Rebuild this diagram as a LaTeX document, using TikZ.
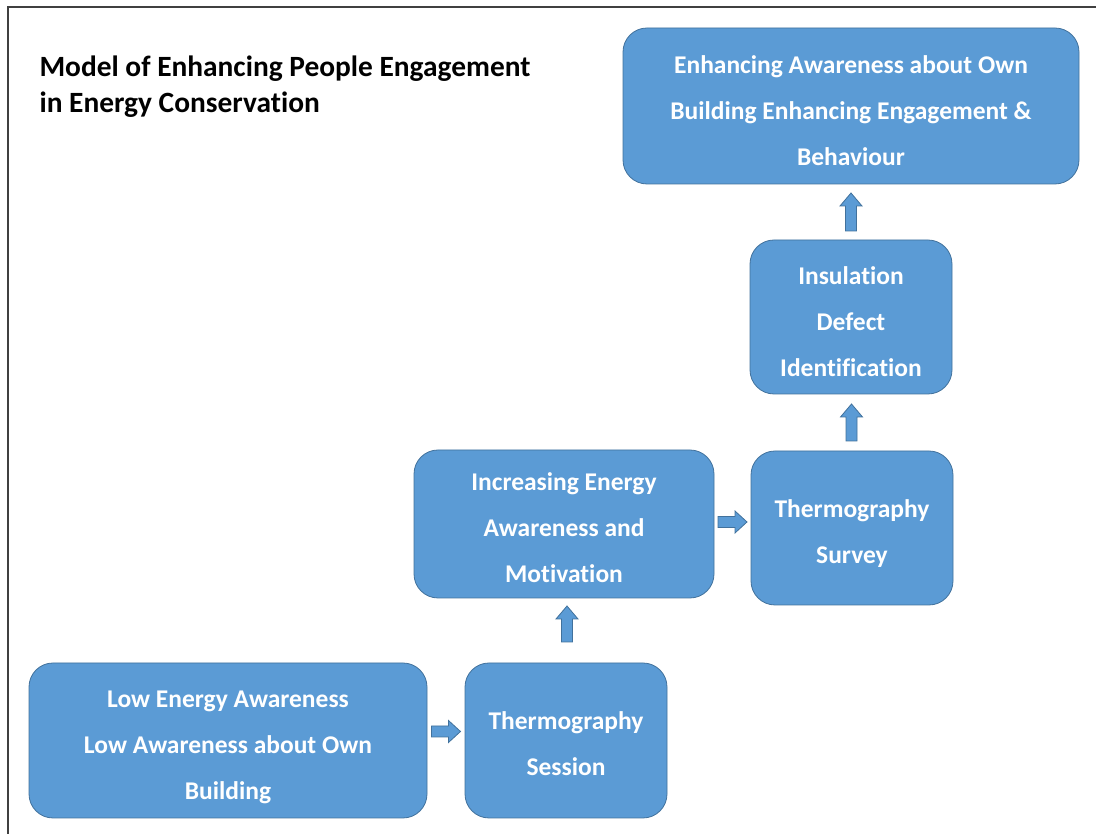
\documentclass[tikz,border=0pt]{standalone}
\usepackage{fontspec}
\setmainfont{Carlito}[Ligatures=NoCommon]
\usetikzlibrary{calc}
\definecolor{boxfill}{HTML}{5B9BD5}
\definecolor{boxline}{HTML}{41719C}
\tikzset{
  x=1pt,y=1pt,
  box/.style={draw=boxline, fill=boxfill, line width=0.8pt, rounded corners=24pt, inner sep=0pt},
  boxtext/.style={text=white, font=\fontsize{25.5}{46}\selectfont\bfseries, align=center, inner sep=0pt},
  barrow/.style={draw=boxline, fill=boxfill, line width=0.8pt},
  frameline/.style={draw=black!75, line width=1.3pt},
}
\begin{document}
\begin{tikzpicture}
\useasboundingbox (0,0) rectangle (1096,834);
\draw[frameline] (8,0) -- (8,827) -- (1096,827);
\node[anchor=west, align=left, font=\fontsize{29.4}{36}\selectfont\bfseries] (title) at (36,747) {Model of Enhancing People Engagement\\in Energy Conservation};

\node[box, minimum width=456pt, minimum height=156pt] (top) at (851,728) {};
\node[boxtext] (toptext) at ([yshift=-4.5]top.center) {Enhancing Awareness about Own\\Building Enhancing Engagement \&\\Behaviour};
\node[box, minimum width=202pt, minimum height=154pt] (ins) at (851,517) {};
\node[boxtext] (instext) at ([yshift=-4.5]ins.center) {Insulation\\Defect\\Identification};
\node[box, minimum width=300pt, minimum height=148pt] (inc) at (564,310) {};
\node[boxtext] (inctext) at ([yshift=-4]inc.center) {Increasing Energy\\Awareness and\\Motivation};
\node[box, minimum width=202pt, minimum height=154pt] (sur) at (852,306) {};
\node[boxtext] (surtext) at ([yshift=-6]sur.center) {Thermography\\Survey};
\node[box, minimum width=398pt, minimum height=155pt] (low) at (228,93.5) {};
\node[boxtext] (lowtext) at ([yshift=-6.5]low.center) {Low Energy Awareness\\Low Awareness about Own\\Building};
\node[box, minimum width=202pt, minimum height=155pt] (ses) at (566,93.5) {};
\node[boxtext] (sestext) at ([yshift=-3.5]ses.center) {Thermography\\Session};

% block arrows
\coordinate (a1) at ([yshift=9]$(low.east)!0.5!(ses.west)$);
\draw[barrow] ([shift={(-14.5,-5.5)}]a1) -- ++(17,0) -- ++(0,-5.5) -- ++(12,11) -- ++(-12,11) -- ++(0,-5.5) -- ++(-17,0) -- cycle;
\coordinate (a2) at (567,210);
\draw[barrow] ([shift={(-5.5,-18)}]a2) -- ++(0,23) -- ++(-5.5,0) -- ++(11,13) -- ++(11,-13) -- ++(-5.5,0) -- ++(0,-23) -- cycle;
\coordinate (a3) at ([yshift=4]$(inc.east)!0.5!(sur.west)$);
\draw[barrow] ([shift={(-14.5,-5.5)}]a3) -- ++(17,0) -- ++(0,-5.5) -- ++(12,11) -- ++(-12,11) -- ++(0,-5.5) -- ++(-17,0) -- cycle;
\coordinate (a4) at ($(sur.north)!0.5!(ins.south)$);
\draw[barrow] ([shift={(-5.5,-18.5)}]a4) -- ++(0,24) -- ++(-5.5,0) -- ++(11,13) -- ++(11,-13) -- ++(-5.5,0) -- ++(0,-24) -- cycle;
\coordinate (a5) at ($(ins.north)!0.5!(top.south)$);
\draw[barrow] ([shift={(-5.5,-19)}]a5) -- ++(0,25) -- ++(-5.5,0) -- ++(11,13) -- ++(11,-13) -- ++(-5.5,0) -- ++(0,-25) -- cycle;
\end{tikzpicture}
\end{document}
